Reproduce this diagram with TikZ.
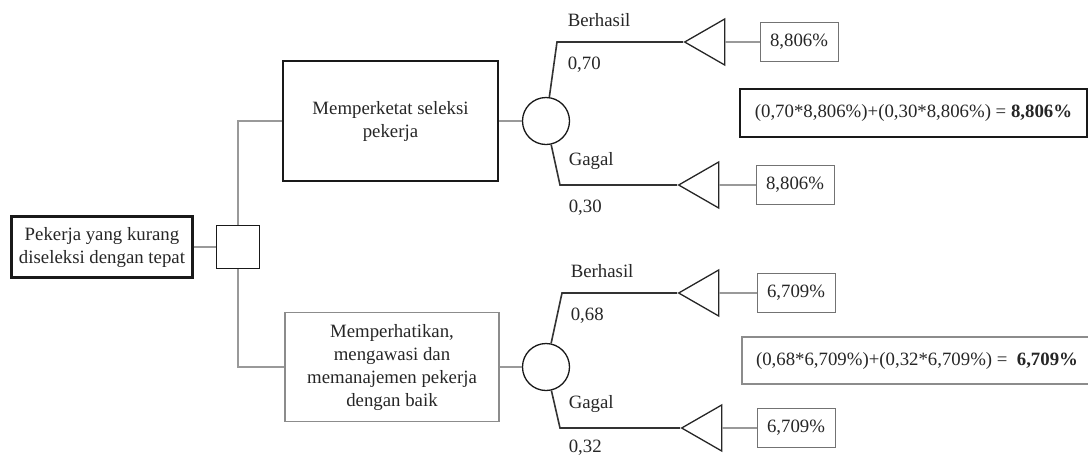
\documentclass[tikz,border=0pt]{standalone}
\usepackage{fontspec}
\setmainfont{Liberation Serif}
\usepackage{tikz}
\usetikzlibrary{positioning}
\usetikzlibrary{shapes.geometric}

\tikzset{
    every node/.style={font=\fontsize{18.8}{23}\selectfont, text=black!85},
    thickbox/.style={draw=black!90, line width=2.6pt, align=center},
    thinbox/.style={draw=black!45, line width=1.3pt, align=center},
    valbox/.style={draw=black!55, line width=1pt, minimum width=78pt, minimum height=39pt},
    decision/.style={draw=black!90, line width=1.3pt, minimum size=43pt, inner sep=0pt},
    chance/.style={circle, draw=black!90, line width=1.3pt, minimum size=47pt, inner sep=0pt},
    ends/.style={isosceles triangle, isosceles triangle stretches, shape border rotate=180,
        draw=black!85, line width=1.3pt, minimum width=46pt, minimum height=40pt, inner sep=0pt},
    link/.style={draw=black!40, line width=1.3pt},
    branch/.style={draw=black!80, line width=1.6pt},
    lbl/.style={inner sep=0pt}
}

\begin{document}
\begin{tikzpicture}[x=1pt,y=-1pt]
    \useasboundingbox (0,0) rectangle (1088,459);
    % Akar dan keputusan
    \node[thickbox, minimum width=181pt, minimum height=61pt] (root) at (102,247)
        {Pekerja yang kurang\\diseleksi dengan tepat};
    \node[decision] (dec) at (238,247) {};
    % Alternatif
    \node[thickbox, minimum width=215pt, minimum height=120pt] (alt1) at (390.5,121)
        {Memperketat seleksi\\pekerja};
    \node[thinbox, minimum width=214pt, minimum height=109pt] (alt2) at (392,367)
        {Memperhatikan,\\mengawasi dan\\memanajemen pekerja\\dengan baik};
    % Simpul peluang
    \node[chance] (c1) at (546,121) {};
    \node[chance] (c2) at (546,367) {};
    % Titik belok cabang
    \coordinate (b1) at (557,42);
    \coordinate (b2) at (560,185);
    \coordinate (b3) at (562,293);
    \coordinate (b4) at (560,428);
    % Simpul akhir
    \node[ends, anchor=apex] (t1) at (683,42) {};
    \node[ends, anchor=apex] (t2) at (677,185) {};
    \node[ends, anchor=apex] (t3) at (677,293) {};
    \node[ends, anchor=apex] (t4) at (680,428) {};
    \node[valbox] (v1) at (799,42) {8,806\%};
    \node[valbox] (v2) at (795,185) {8,806\%};
    \node[valbox] (v3) at (796,293) {6,709\%};
    \node[valbox] (v4) at (796,428) {6,709\%};
    % Nilai harapan
    \node[thickbox, minimum width=347pt, minimum height=48pt] (ev1) at (913.5,113)
        {(0,70*8,806\%)+(0,30*8,806\%) = \textbf{8,806\%}};
    \node[thinbox, minimum width=350pt, minimum height=47pt] (ev2) at (917,360.5)
        {(0,68*6,709\%)+(0,32*6,709\%) =\ \ \textbf{6,709\%}};
    % Garis penghubung
    \draw[link] (root) -- (dec);
    \draw[link] (dec) |- (alt1);
    \draw[link] (dec) |- (alt2);
    \draw[link] (alt1) -- (c1);
    \draw[link] (alt2) -- (c2);
    \draw[branch] (c1) -- (b1) -- (t1.apex)
        node[lbl, above right=15pt and 10pt] at (b1) {Berhasil}
        node[lbl, below right=14pt and 10pt] at (b1) {0,70};
    \draw[branch] (c1) -- (b2) -- (t2.apex)
        node[lbl, above right=15pt and 8pt] at (b2) {Gagal}
        node[lbl, below right=14pt and 8pt] at (b2) {0,30};
    \draw[branch] (c2) -- (b3) -- (t3.apex)
        node[lbl, above right=15pt and 8pt] at (b3) {Berhasil}
        node[lbl, below right=14pt and 8pt] at (b3) {0,68};
    \draw[branch] (c2) -- (b4) -- (t4.apex)
        node[lbl, above right=15pt and 8pt] at (b4) {Gagal}
        node[lbl, below right=11pt and 8pt] at (b4) {0,32};
    \foreach \i in {1,2,3,4} {
        \draw[link] (t\i) -- (v\i);
    }
\end{tikzpicture}
\end{document}
